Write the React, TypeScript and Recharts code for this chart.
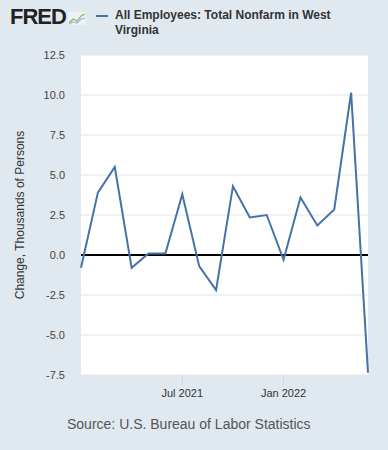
import React from "react";
import { LineChart, Line, XAxis, YAxis, CartesianGrid, ReferenceLine } from "recharts";

const months = [
  "Jan 2021", "Feb 2021", "Mar 2021", "Apr 2021", "May 2021", "Jun 2021",
  "Jul 2021", "Aug 2021", "Sep 2021", "Oct 2021", "Nov 2021", "Dec 2021",
  "Jan 2022", "Feb 2022", "Mar 2022", "Apr 2022", "May 2022", "Jun 2022",
];
const values = [-0.8, 3.9, 5.5, -0.8, 0.1, 0.1, 3.8, -0.7, -2.2, 4.3, 2.35, 2.5, -0.3, 3.6, 1.85, 2.85, 10.15, -7.35];
const yTicks = [-7.5, -5.0, -2.5, 0.0, 2.5, 5.0, 7.5, 10.0, 12.5];
const xTickLabels = ["Jul 2021", "Jan 2022"];

const data = months.map((m, i) => ({ idx: i, month: m, value: values[i] }));
const xTicks = xTickLabels.map((l) => months.indexOf(l));

export default function App() {
  return (
    <div
      style={{
        position: "fixed",
        top: 0,
        left: 0,
        width: 388,
        height: 450,
        background: "#e1e9f0",
        fontFamily: "Liberation Sans, Arial, sans-serif",
        overflow: "hidden",
      }}
    >
      <div style={{ position: "absolute", left: 10, top: 4, display: "flex", alignItems: "center" }}>
        <span style={{ fontWeight: 900, fontSize: 22, color: "#222", letterSpacing: -1 }}>FRED</span>
        <svg width="18" height="13" style={{ marginLeft: 2, marginTop: 3 }}>
          <rect x="0" y="0" width="18" height="13" fill="#eef2f5" />
          <polyline points="1,11 5,7 9,9 13,4 17,2" fill="none" stroke="#8fb35f" strokeWidth="1.2" />
          <polyline points="1,12 5,10 9,11 13,7 17,6" fill="none" stroke="#9ab8d6" strokeWidth="1.2" />
        </svg>
      </div>
      <div style={{ position: "absolute", left: 96, top: 15, width: 12, height: 2, background: "#4572a7" }} />
      <div
        style={{
          position: "absolute",
          left: 115,
          top: 8,
          width: 240,
          fontSize: 12,
          fontWeight: 700,
          color: "#333",
          lineHeight: "15px",
        }}
      >
        All Employees: Total Nonfarm in West Virginia
      </div>
      <div
        style={{
          position: "absolute",
          left: 12,
          top: 215,
          transform: "translate(-50%, -50%) rotate(-90deg)",
          transformOrigin: "center",
          whiteSpace: "nowrap",
          fontSize: 12,
          color: "#333",
          marginLeft: 8,
        }}
      >
        Change, Thousands of Persons
      </div>
      <div style={{ position: "absolute", left: 67, top: 416, fontSize: 14, color: "#555" }}>
        Source: U.S. Bureau of Labor Statistics
      </div>
      <div style={{ position: "absolute", left: 0, top: 0 }}>
        <LineChart width={388} height={450} data={data} margin={{ top: 55, right: 20, bottom: 45, left: 31 }}>
          <CartesianGrid vertical={false} stroke="#e6e6e6" fill="#ffffff" horizontalValues={yTicks} />
          <XAxis
            dataKey="idx"
            type="number"
            domain={[0, months.length - 1]}
            ticks={xTicks}
            tickFormatter={(v: number) => months[v]}
            height={30}
            axisLine={false}
            tickLine={{ stroke: "#ccd6eb" }}
            tickSize={10}
            tick={{ fontSize: 11, fill: "#333" }}
            tickMargin={4}
          />
          <YAxis
            type="number"
            domain={[-7.5, 12.5]}
            ticks={yTicks}
            tickFormatter={(v: number) => v.toFixed(1)}
            width={50}
            axisLine={false}
            tickLine={false}
            tick={{ fontSize: 11, fill: "#444" }}
            tickMargin={10}
            allowDataOverflow
          />
          <ReferenceLine y={0} stroke="#000" strokeWidth={2} />
          <Line
            type="linear"
            dataKey="value"
            stroke="#4572a7"
            strokeWidth={2}
            dot={false}
            isAnimationActive={false}
          />
        </LineChart>
      </div>
    </div>
  );
}
